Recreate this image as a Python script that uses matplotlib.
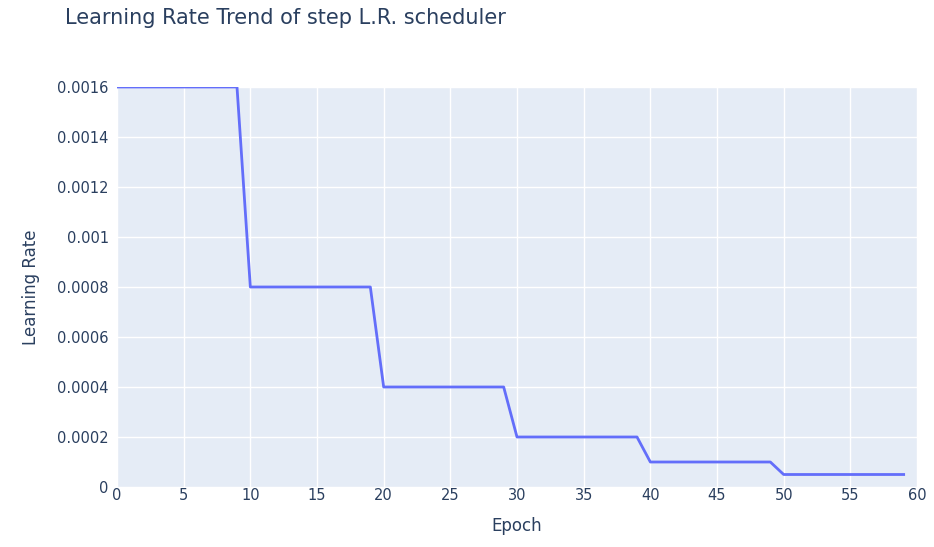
import matplotlib
matplotlib.use("Agg")
import matplotlib.pyplot as plt

# data
epochs = list(range(60))
lr = ([0.0016] * 10 + [0.0008] * 10 + [0.0004] * 10
      + [0.0002] * 10 + [0.0001] * 10 + [0.00005] * 10)
yticks = [0, 0.0002, 0.0004, 0.0006, 0.0008, 0.001, 0.0012, 0.0014, 0.0016]
ylabels = ["0", "0.0002", "0.0004", "0.0006", "0.0008", "0.001", "0.0012", "0.0014", "0.0016"]
xticks = list(range(0, 61, 5))

txt = "#2a3f5f"
fig = plt.figure(figsize=(9.34, 5.47), dpi=100)
ax = fig.add_axes([117 / 934, 60 / 547, 800 / 934, 400 / 547])
ax.set_facecolor("#E5ECF6")
ax.plot(epochs, lr, color="#636EFA", lw=2)
ax.set_xlim(0, 60)
ax.set_ylim(0, 0.0016)
ax.set_xticks(xticks)
ax.set_yticks(yticks)
ax.set_yticklabels(ylabels)
ax.grid(color="white", lw=1)
ax.set_axisbelow(True)
for s in ax.spines.values():
    s.set_visible(False)
ax.tick_params(length=0, labelsize=10.5, labelcolor=txt)
ax.tick_params(axis="x", pad=1)
ax.tick_params(axis="y", pad=6)
ax.set_xlabel("Epoch", fontsize=12, color=txt, labelpad=10)
ax.set_ylabel("Learning Rate", fontsize=12, color=txt, labelpad=12)
fig.text(65 / 934, 1 - 18 / 547, "Learning Rate Trend of step L.R. scheduler",
         fontsize=15, color=txt, va="center")
fig.savefig("out.png", dpi=100)
